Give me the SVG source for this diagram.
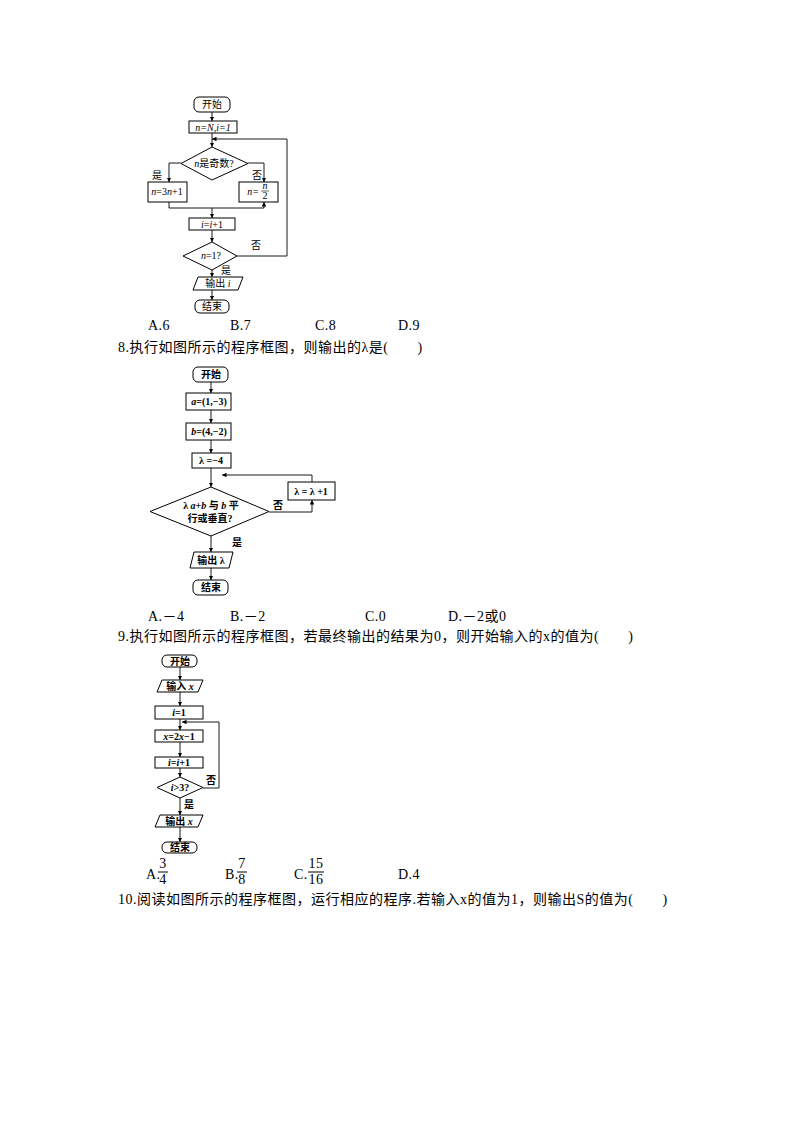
<svg xmlns="http://www.w3.org/2000/svg" width="794" height="1123" viewBox="0 0 794 1123">
<style>
.s{fill:#fff;stroke:#000;stroke-width:1}
.l{fill:none;stroke:#000;stroke-width:0.9}
text{font-family:"Liberation Serif","Noto Sans CJK SC",serif;fill:#000}
.t{font-size:10px;text-anchor:middle}
.b{font-size:10px;text-anchor:middle;font-weight:bold}
.q{font-size:14px;letter-spacing:0.5px}
.i{font-style:italic}
</style>
<defs><marker id="a" viewBox="0 0 6 6" refX="6" refY="3" markerWidth="5" markerHeight="5" orient="auto"><path d="M0,0L6,3L0,6z" fill="#000"/></marker></defs>
<rect width="794" height="1123" fill="#fff"/>

<g id="c1-edges" class="l" marker-end="url(#a)">
<path d="M212,112V121"/><path d="M212,133V147"/>
<path d="M181,163H169V182"/><path d="M248,163H264V182"/>
<path d="M169,202V208H264V202"/><path d="M212,208V218" />
<path d="M212,230V242"/><path d="M237,256H287V139H212"/>
<path d="M212,270V277"/><path d="M212,290V300"/>
</g>
<g id="c1-nodes">
<g id="n1"><rect class="s" x="194" y="97" width="36" height="15" rx="5"/><text class="t" x="212" y="108">开始</text></g>
<g id="n2"><rect class="s" x="189" y="121" width="48" height="12"/><text class="t i" x="213" y="131">n=N,i=1</text></g>
<g id="n3"><polygon class="s" points="212,147 248,163.5 212,180 181,163.5"/><text class="t" x="214" y="167"><tspan class="i">n</tspan>是奇数?</text></g>
<g id="n4"><rect class="s" x="148" y="182" width="39" height="20"/><text class="t" x="167" y="195"><tspan class="i">n</tspan>=3<tspan class="i">n</tspan>+1</text></g>
<g id="n5"><rect class="s" x="239" y="182" width="39" height="20"/><text class="t i" x="253" y="195">n=</text><text class="t i" x="265" y="189" font-size="8">n</text><line x1="261" y1="191" x2="269" y2="191" stroke="#000" stroke-width="0.6"/><text class="t" x="265" y="199" font-size="8">2</text></g>
<g id="n6"><rect class="s" x="189" y="218" width="46" height="12"/><text class="t" x="212" y="228"><tspan class="i">i</tspan>=<tspan class="i">i</tspan>+1</text></g>
<g id="n7"><polygon class="s" points="212,242 237,256 212,270 183,256"/><text class="t" x="211" y="259"><tspan class="i">n</tspan>=1?</text></g>
<g id="n8"><polygon class="s" points="198,277 243,277 238,290 193,290"/><text class="t" x="218" y="287">输出 <tspan class="i">i</tspan></text></g>
<g id="n9"><rect class="s" x="195" y="300" width="34" height="13" rx="5"/><text class="t" x="212" y="310">结束</text></g>
<text class="t" x="157" y="179">是</text><text class="t" x="257" y="179">否</text>
<text class="t" x="256" y="249">否</text><text class="t" x="226" y="274">是</text>
</g>
<text class="q" x="148" y="330">A.6</text><text class="q" x="230" y="330">B.7</text><text class="q" x="315" y="330">C.8</text><text class="q" x="398" y="330">D.9</text>
<text class="q" x="118" y="352">8.执行如图所示的程序框图，则输出的λ是(　　)</text>

<g id="c2-edges" class="l" marker-end="url(#a)">
<path d="M211,382V393"/><path d="M211,410V423"/><path d="M211,440V453"/>
<path d="M211,468V487"/><path d="M312,482V475H222"/>
<path d="M269,512H312V500"/><path d="M211,536V552"/><path d="M211,568V580"/>
</g>
<g id="c2-nodes">
<g id="m1"><rect class="s" x="193" y="367" width="35" height="15" rx="5"/><text class="b" x="211" y="378">开始</text></g>
<g id="m2"><rect class="s" x="186" y="393" width="45" height="17"/><text class="b" x="209" y="405"><tspan class="i">a</tspan>=(1,−3)</text></g>
<g id="m3"><rect class="s" x="186" y="423" width="45" height="17"/><text class="b" x="209" y="435"><tspan class="i">b</tspan>=(4,−2)</text></g>
<g id="m4"><rect class="s" x="192" y="453" width="39" height="15"/><text class="b" x="211" y="464">λ =−4</text></g>
<g id="m5"><polygon class="s" points="211,487 269,511.5 211,536 150,511.5"/><text class="b" x="211" y="509">λ <tspan class="i">a</tspan>+<tspan class="i">b</tspan> 与 <tspan class="i">b</tspan> 平</text><text class="b" x="210" y="522" font-weight="normal">行或垂直?</text></g>
<g id="m6"><rect class="s" x="288" y="482" width="47" height="18"/><text class="b" x="311" y="495">λ = λ +1</text></g>
<g id="m7"><polygon class="s" points="194,552 233,552 229,568 190,568"/><text class="b" x="211" y="564">输出 λ</text></g>
<g id="m8"><rect class="s" x="193" y="580" width="35" height="15" rx="5"/><text class="b" x="211" y="591">结束</text></g>
<text class="b" x="278" y="509" font-weight="normal">否</text><text class="b" x="237" y="546">是</text>
</g>
<text class="q" x="148" y="621">A.－4</text><text class="q" x="230" y="621">B.－2</text><text class="q" x="365" y="621">C.0</text><text class="q" x="448" y="621">D.－2或0</text>
<text class="q" x="118" y="641">9.执行如图所示的程序框图，若最终输出的结果为0，则开始输入的x的值为(　　)</text>

<g id="c3-edges" class="l" marker-end="url(#a)">
<path d="M180,667V680"/><path d="M180,692V706"/><path d="M180,719V730"/>
<path d="M180,742V757"/><path d="M180,768V777"/><path d="M203,788H219V722H182"/>
<path d="M180,798V815"/><path d="M180,827V842"/>
</g>
<g id="c3-nodes">
<g id="k1"><rect class="s" x="162" y="655" width="35" height="12" rx="5"/><text class="b" x="180" y="665">开始</text></g>
<g id="k2"><polygon class="s" points="162,680 203,680 198,692 157,692"/><text class="b" x="180" y="690">输入 <tspan class="i">x</tspan></text></g>
<g id="k3"><rect class="s" x="155" y="706" width="48" height="13"/><text class="b" x="179" y="716"><tspan class="i">i</tspan>=1</text></g>
<g id="k4"><rect class="s" x="155" y="730" width="48" height="12"/><text class="b" x="179" y="740"><tspan class="i">x</tspan>=2<tspan class="i">x</tspan>−1</text></g>
<g id="k5"><rect class="s" x="155" y="757" width="48" height="11"/><text class="b" x="179" y="766"><tspan class="i">i</tspan>=<tspan class="i">i</tspan>+1</text></g>
<g id="k6"><polygon class="s" points="180,777 203,787.5 180,798 157,787.5"/><text class="b" x="180" y="791"><tspan class="i">i</tspan>&gt;3?</text></g>
<g id="k7"><polygon class="s" points="160,815 203,815 198,827 155,827"/><text class="b" x="179" y="825">输出 <tspan class="i">x</tspan></text></g>
<g id="k8"><rect class="s" x="162" y="842" width="35" height="11" rx="5"/><text class="b" x="180" y="851">结束</text></g>
<text class="b" x="211" y="784">否</text><text class="b" x="189" y="808">是</text>
</g>
<g class="q">
<text x="146" y="879">A.</text><text x="163" y="868" text-anchor="middle">3</text><line x1="158" y1="872" x2="168" y2="872" stroke="#000"/><text x="163" y="884" text-anchor="middle">4</text>
<text x="225" y="879">B.</text><text x="242" y="868" text-anchor="middle">7</text><line x1="237" y1="872" x2="247" y2="872" stroke="#000"/><text x="242" y="884" text-anchor="middle">8</text>
<text x="294" y="879">C.</text><text x="316" y="868" text-anchor="middle">15</text><line x1="308" y1="872" x2="324" y2="872" stroke="#000"/><text x="316" y="884" text-anchor="middle">16</text>
<text x="398" y="879">D.4</text>
</g>
<text class="q" x="118" y="904">10.阅读如图所示的程序框图，运行相应的程序.若输入x的值为1，则输出S的值为(　　)</text>
</svg>
